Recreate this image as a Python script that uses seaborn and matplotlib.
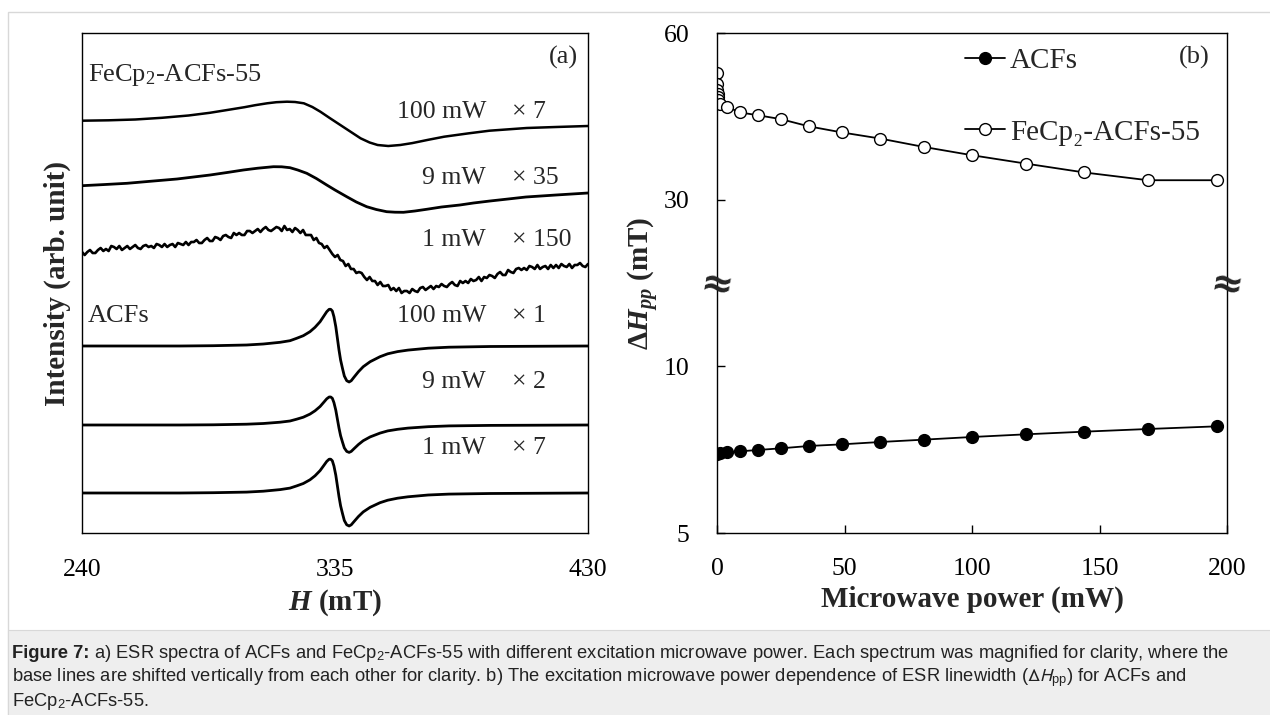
import numpy as np
import pandas as pd
import matplotlib
matplotlib.use("Agg")
import matplotlib.pyplot as plt
import seaborn as sns
from matplotlib.patches import Rectangle
from matplotlib.lines import Line2D

# ---------------- data ----------------
# (a) ESR spectra, intensity in arbitrary units
fe100_H = [240, 250, 260, 270, 280, 288, 295, 301, 305, 309.5, 313, 317, 320, 323.3, 326.5, 329.5,
           333, 337, 341, 344.6, 348, 351, 355, 359.5, 364, 370, 376, 385, 393, 407, 418, 430]
fe100_I = [412.3, 412.7, 413.5, 415.2, 417.5, 420.2, 423.2, 425.8, 427.8, 429.7, 430.8, 431.3, 431, 429.7,
           426, 421.3, 415, 408, 401, 394.7, 390.5, 388, 387, 388, 389.9, 393.2, 396.3, 399.6, 402.3,
           405, 406, 407]

fe9_H = [240, 248, 256.9, 266, 275.7, 288.1, 295, 300.6, 306, 311.9, 315, 318.1, 321, 324.4, 328, 331.9,
         335, 339.4, 343, 346.9, 350.5, 354.4, 357.5, 360.7, 365, 369.4, 375, 381.9, 387, 393.2, 400,
         406.7, 418, 430]
fe9_I = [347.3, 348.4, 349.7, 351.8, 354, 358, 360.7, 363, 364.8, 366.3, 366.2, 365.3, 363, 359.7, 354.5,
         348, 343, 336.3, 331, 326.3, 323.5, 321.3, 320.8, 320.7, 322, 323.7, 326, 328, 330, 332, 334,
         336, 338, 340]

fe1_H = list(range(240, 431))
fe1_I = [281, 278, 281, 283, 280, 280, 283, 285, 282, 284,
         282, 287, 286, 284, 287, 283, 285, 287, 284, 286,
         288, 285, 284, 287, 288, 286, 287, 285, 289, 288,
         286, 289, 286, 288, 289, 286, 290, 289, 288, 291,
         288, 291, 291, 293, 290, 290, 293, 295, 292, 292,
         296, 295, 293, 297, 298, 296, 295, 300, 298, 300,
         298, 298, 302, 302, 300, 302, 304, 301, 304, 306,
         303, 302, 304, 306, 305, 302, 307, 303, 304, 301,
         305, 303, 300, 303, 298, 298, 298, 293, 295, 290,
         289, 285, 287, 283, 279, 276, 278, 273, 272, 267,
         269, 264, 264, 260, 261, 260, 256, 253, 256, 252,
         252, 248, 251, 247, 247, 248, 243, 245, 242, 245,
         240, 242, 242, 240, 244, 242, 241, 245, 246, 243,
         245, 247, 244, 247, 246, 249, 247, 246, 249, 251,
         248, 247, 252, 250, 252, 250, 254, 252, 253, 256,
         252, 256, 255, 258, 257, 255, 259, 261, 258, 258,
         263, 261, 260, 264, 265, 263, 265, 263, 267, 266,
         264, 268, 264, 266, 267, 264, 268, 265, 268, 265,
         269, 267, 266, 269, 265, 268, 268, 270, 267, 266, 269]

acf_H = [240, 276.8, 289.3, 301.8, 308.1, 314.4, 318.1, 320.6, 323.1, 325.6, 327.5, 329.4, 330.9, 331.9,
         332.8, 333.4, 334.0, 334.6, 335.3, 335.9, 336.5, 337.1, 337.8, 338.5, 339.4, 340.3, 341.1, 342.1,
         343.8, 345.6, 348.2, 351.9, 354.8, 358.5, 362.4, 370, 377.8, 393.2, 430]
acf100_I = [187, 187, 187.3, 188, 189, 190.7, 192.3, 194.7, 197.3, 201.3, 205.7, 211.3, 217.3, 221.3,
            223.7, 223.7, 222, 216.3, 206.3, 194.7, 183, 173, 164.7, 157, 152.3, 151, 152.3, 155.7,
            161.3, 166.3, 171.3, 176.3, 179.2, 181.4, 182.9, 184.8, 185.8, 186.5, 187]
acf9_I = [108, 108, 108.2, 108.8, 109.5, 110.8, 112, 113.8, 115.8, 118.9, 122.2, 126.5, 131.1, 134.2,
          136, 136, 134.7, 130.4, 122.8, 113.8, 104.9, 97.3, 91, 85.1, 81.6, 80.6, 81.6, 84.2, 88.5,
          92.3, 96.1, 99.9, 102.1, 103.7, 104.9, 106.3, 107.1, 107.6, 108]
acf1_I = [40, 40, 40.3, 40.9, 41.8, 43.4, 44.9, 47.1, 49.5, 53.2, 57.2, 62.4, 67.9, 71.6, 73.8, 73.8,
          72.2, 67, 57.8, 47.1, 36.4, 27.2, 19.6, 12.5, 8.2, 7, 8.2, 11.3, 16.5, 21.1, 25.7, 30.3, 32.8,
          34.8, 36.2, 38.0, 38.9, 39.5, 40]

power_labels = ["100 mW", "9 mW", "1 mW", "100 mW", "9 mW", "1 mW"]
factor_labels = ["\u00d7 7", "\u00d7 35", "\u00d7 150", "\u00d7 1", "\u00d7 2", "\u00d7 7"]
h_ticks = [240, 335, 430]

# (b) linewidth vs microwave power
power_fe = [0.02, 0.05, 0.1, 0.2, 0.3, 0.5, 1, 4, 9, 16, 25, 36, 49, 64, 81, 100, 121, 144, 169, 196]
width_fe = [52.8, 50.8, 49.8, 49.0, 48.4, 48.0, 47.2, 46.7, 45.7, 45.2, 44.5, 43.2, 42.1, 41.0, 39.5,
            38.0, 36.5, 34.9, 33.5, 33.5]
power_acf = [0.02, 1, 4, 9, 16, 25, 36, 49, 64, 81, 100, 121, 144, 169, 196]
width_acf = [7.37, 7.40, 7.42, 7.45, 7.49, 7.54, 7.61, 7.66, 7.73, 7.80, 7.88, 7.96, 8.04, 8.12, 8.20]
y_ticks_b = [5, 10, 30, 60]
x_ticks_b = [0, 50, 100, 150, 200]

# ---------------- style ----------------
sns.set_theme(style="ticks")
plt.rcParams["font.family"] = ["Liberation Serif", "DejaVu Serif"]
plt.rcParams["mathtext.fontset"] = "custom"
plt.rcParams["mathtext.rm"] = "Liberation Serif"
plt.rcParams["mathtext.it"] = "Liberation Serif:italic"
plt.rcParams["mathtext.bf"] = "Liberation Serif:bold"
plt.rcParams["mathtext.bfit"] = "Liberation Serif:italic:bold"

W, H = 1270, 715
fig = plt.figure(figsize=(W / 100, H / 100), dpi=100)
fig.patch.set_facecolor("white")

# page card + caption box
fig.patches.append(Rectangle((8 / W, -0.01), 1.05, 1 - 12 / H + 0.01, transform=fig.transFigure,
                             facecolor="white", edgecolor="#d8d8d8", lw=1.0, zorder=-10))
fig.patches.append(Rectangle((8 / W, -0.01), 1.05, 85 / H + 0.01, transform=fig.transFigure,
                             facecolor="#eeeeee", edgecolor="#d8d8d8", lw=0.8, zorder=-9))

def fx(px):
    return px / W

def fy(py):
    return 1 - py / H

# ---------------- panel (a) ----------------
ax1 = fig.add_axes([fx(82), fy(533), 506 / W, 500 / H])
for hh, ii, lw in [(fe100_H, fe100_I, 1.8), (fe9_H, fe9_I, 2.0), (fe1_H, fe1_I, 1.9),
                   (acf_H, acf100_I, 2.0), (acf_H, acf9_I, 2.0), (acf_H, acf1_I, 2.0)]:
    sns.lineplot(x=hh, y=ii, ax=ax1, color="black", lw=lw, sort=False, estimator=None)
ax1.set_xlim(240, 430)
ax1.set_ylim(0, 500)
ax1.set_xticks(h_ticks)
ax1.set_xticklabels([str(t) for t in h_ticks])
ax1.set_yticks([])
ax1.tick_params(axis="x", length=0, labelsize=18.5, pad=19, colors="black")
ax1.set_xlabel(r"$\mathbfit{H}$ (mT)", fontsize=21, fontweight="bold", labelpad=4)
ax1.set_ylabel("Intensity (arb. unit)", fontsize=21, fontweight="bold", labelpad=8)
for s in ax1.spines.values():
    s.set_color("black")
    s.set_linewidth(1.0)

def afx(px):
    return (px - 82) / 506

def afy(py):
    return (533 - py) / 500

ax1.text(afx(88), afy(75), r"FeCp$_2$-ACFs-55", transform=ax1.transAxes, fontsize=19,
         ha="left", va="center")
ax1.text(afx(88), afy(316), "ACFs", transform=ax1.transAxes, fontsize=19, ha="left", va="center")
ax1.text(afx(578), afy(57), "(a)", transform=ax1.transAxes, fontsize=19, ha="right", va="center")
label_y = [112, 178, 240, 316, 382, 448]
for lab, fac, yy in zip(power_labels, factor_labels, label_y):
    ax1.text(afx(486), afy(yy), lab, transform=ax1.transAxes, fontsize=18.5, ha="right", va="center")
    ax1.text(afx(512), afy(yy), fac, transform=ax1.transAxes, fontsize=18.5, ha="left", va="center")

# ---------------- panel (b) ----------------
ax2 = fig.add_axes([fx(717), fy(533), 510 / W, 500 / H])

def fwd(v):
    return np.interp(v, y_ticks_b, [0, 1, 2, 3])

def inv(p):
    return np.interp(p, [0, 1, 2, 3], y_ticks_b)

ax2.set_yscale("function", functions=(fwd, inv))
sns.lineplot(x=power_acf, y=width_acf, ax=ax2, color="black", lw=1.3, marker="o", markersize=8.5,
             markerfacecolor="black", markeredgecolor="black", markeredgewidth=1.0,
             estimator=None)
sns.lineplot(x=power_fe, y=width_fe, ax=ax2, color="black", lw=1.3, marker="o", markersize=8.5,
             markerfacecolor="white", markeredgecolor="black", markeredgewidth=1.0,
             estimator=None)
ax2.set_xlim(0, 200)
ax2.set_ylim(5, 60)
ax2.set_xticks(x_ticks_b)
ax2.set_xticklabels([str(t) for t in x_ticks_b])
ax2.set_yticks(y_ticks_b)
ax2.set_yticklabels([str(t) for t in y_ticks_b])
ax2.yaxis.set_minor_locator(matplotlib.ticker.NullLocator())
ax2.tick_params(direction="in", length=6, width=1, labelsize=18.5, colors="black")
ax2.tick_params(axis="x", pad=18)
ax2.tick_params(axis="y", pad=20)
ax2.set_xlabel("Microwave power (mW)", fontsize=21, fontweight="bold", labelpad=4)
ax2.set_ylabel(r"$\mathbf{\Delta}\mathbfit{H}_{\mathbfit{pp}}$ (mT)", fontsize=21,
               fontweight="bold", labelpad=2)
for s in ax2.spines.values():
    s.set_color("black")
    s.set_linewidth(1.0)

handles = [
    Line2D([], [], color="black", lw=1.3, marker="o", markersize=8.5, markerfacecolor="black",
           markeredgecolor="black"),
    Line2D([], [], color="black", lw=1.3, marker="o", markersize=8.5, markerfacecolor="white",
           markeredgecolor="black"),
]
ax2.legend(handles, ["ACFs", "FeCp\u2082-ACFs-55"], loc="upper left",
           bbox_to_anchor=((950 - 717) / 510, 1.0), frameon=False, fontsize=21,
           handlelength=1.4, handletextpad=0.15, labelspacing=1.55, borderaxespad=0.3,
           borderpad=0.2)
ax2.text((1194 - 717) / 510, (533 - 57) / 500, "(b)", transform=ax2.transAxes, fontsize=19,
         ha="center", va="center")

# axis break marks
for xa in (0.0, 1.0):
    ax2.text(xa, (533 - 285) / 500, "\u2248", transform=ax2.transAxes, fontsize=28,
             fontweight="bold", family="DejaVu Sans", ha="center", va="center", rotation=-10,
             clip_on=False)

# ---------------- caption ----------------
cap_font = ["Liberation Sans", "DejaVu Sans"]
cap_size = 13.2
fig.canvas.draw()
renderer = fig.canvas.get_renderer()
lines = [
    r" a) ESR spectra of ACFs and FeCp$_\mathregular{2}$-ACFs-55 with different excitation microwave power. Each spectrum was magnified for clarity, where the",
    r"base lines are shifted vertically from each other for clarity. b) The excitation microwave power dependence of ESR linewidth ($\Delta\mathit{H}_\mathregular{pp}$) for ACFs and",
    r"FeCp$_\mathregular{2}$-ACFs-55.",
]
t0 = fig.text(fx(12), fy(658), "Figure 7:", fontsize=cap_size, fontweight="bold", family=cap_font,
              va="baseline", ha="left", color="#222222")
w0 = t0.get_window_extent(renderer).width
fig.text(fx(12 + w0), fy(658), lines[0], fontsize=cap_size, family=cap_font, va="baseline",
         ha="left", color="#222222", math_fontfamily="stixsans")
fig.text(fx(12), fy(682), lines[1], fontsize=cap_size, family=cap_font, va="baseline", ha="left",
         color="#222222", math_fontfamily="stixsans")
fig.text(fx(12), fy(706), lines[2], fontsize=cap_size, family=cap_font, va="baseline", ha="left",
         color="#222222", math_fontfamily="stixsans")

fig.savefig("out.png", dpi=100)
